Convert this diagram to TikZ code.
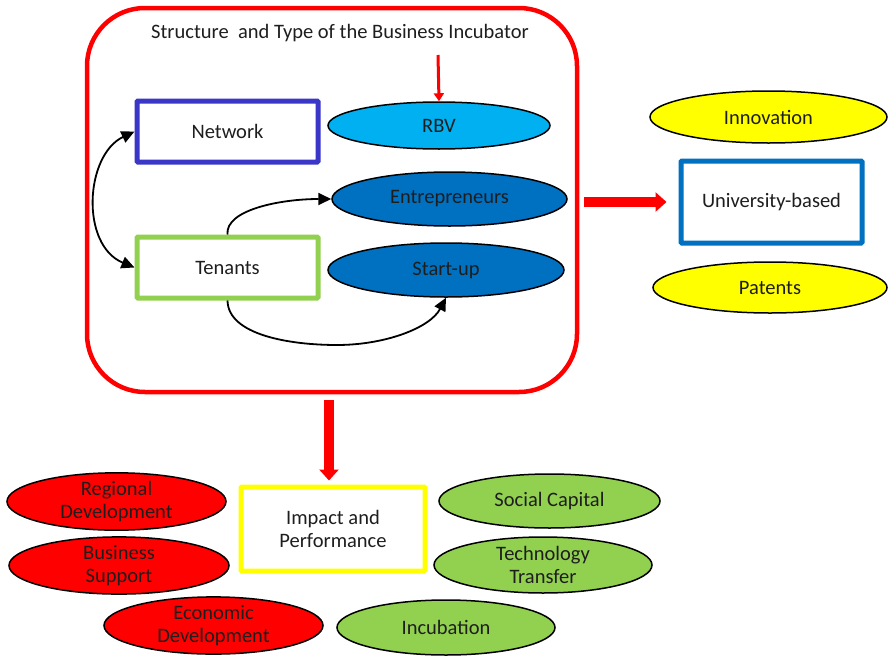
\documentclass[tikz,border=0pt]{standalone}
\usepackage{fontspec}
\setmainfont{Carlito}
\usetikzlibrary{arrows.meta,shapes.geometric,calc}
\definecolor{bred}{HTML}{FF0000}
\definecolor{netblue}{HTML}{3A36C8}
\definecolor{tgreen}{HTML}{92D050}
\definecolor{ublue}{HTML}{0070C0}
\definecolor{rbvblue}{HTML}{00B0F0}
\definecolor{yel}{HTML}{FFFF00}
\definecolor{txt}{HTML}{1E1E1E}
\begin{document}
\begin{tikzpicture}[x=1pt,y=-1pt,
  every node/.style={font=\fontsize{20.5}{23}\selectfont, text=txt, align=center},
  boxnode/.style={draw, line width=5pt, fill=white, inner sep=0pt, rounded corners=1pt},
  ell/.style={ellipse, draw=black, line width=1.5pt, inner sep=0pt},
  curvearrow/.style={draw=black, line width=1.8pt, -{Triangle[length=13pt,width=12pt]}},
  bigarrow/.style={draw=bred, line width=10pt, -{Triangle[length=11pt,width=19pt]}},
  smallarrow/.style={draw=bred, line width=3pt, -{Triangle[length=8pt,width=10pt]}}
]
\useasboundingbox (0,0) rectangle (889,656);
\fill[white] (0,0) rectangle (889,656);

% main container
\node[draw=bred, line width=4.5pt, rounded corners=58pt, minimum width=490pt, minimum height=384pt, inner sep=0pt] (bigbox) at (332,200) {};
\node (title) at (340,33) {Structure\ \ and Type of the Business Incubator};

\node[boxnode, draw=netblue, minimum width=181pt, minimum height=61pt] (network) at (227.5,131.5) {Network};
\node[boxnode, draw=tgreen, minimum width=181pt, minimum height=61pt] (tenants) at (227.5,267.5) {Tenants};

\node[ell, fill=rbvblue, minimum width=222pt, minimum height=47pt] (rbv) at (439,125.5) {RBV};
\node[ell, fill=ublue, minimum width=235pt, minimum height=54pt] (entre) at (449.5,199) {Entrepreneurs};
\node[ell, fill=ublue, minimum width=236pt, minimum height=54pt] (startup) at (446,270) {Start-up};

\coordinate (rbvin) at (438,55);
\draw[smallarrow] (rbvin) -- (rbv.north);

\draw[curvearrow, {Triangle[length=13pt,width=12pt]}-{Triangle[length=13pt,width=12pt]}]
  (network.west) .. controls (85,155) and (80,245) .. (tenants.west);
\draw[curvearrow] (tenants.north) .. controls (225,210) and (280,199) .. (entre.west);
\draw[curvearrow] (tenants.south) .. controls (228,335) and (290,345) .. (337,345)
  .. controls (385,345) and (430,328) .. (startup.south);

% right side
\node[boxnode, draw=ublue, minimum width=181pt, minimum height=82pt] (univ) at (771.5,202) {University-based};
\node[ell, fill=yel, minimum width=237pt, minimum height=52pt] (innov) at (768.5,117) {Innovation};
\node[ell, fill=yel, minimum width=234pt, minimum height=51pt] (patents) at (770,287.5) {Patents};
\draw[bigarrow, shorten <=5pt, shorten >=12pt] (bigbox.east |- univ) -- (univ.west);

% bottom
\node[boxnode, draw=yel, minimum width=184pt, minimum height=84pt] (impact) at (333,529) {Impact and\\Performance};
\draw[bigarrow, shorten <=6pt, shorten >=4pt] (bigbox.south -| 329,0) -- (impact.north -| 329,0);

\node[ell, fill=bred, minimum width=219pt, minimum height=57pt] (regional) at (116.5,501.5) {Regional\\Development};
\node[ell, fill=bred, minimum width=220pt, minimum height=57pt] (business) at (119,565.5) {Business\\Support};
\node[ell, fill=bred, minimum width=219pt, minimum height=57pt] (economic) at (213.5,625.5) {Economic\\Development};
\node[ell, fill=tgreen, minimum width=221pt, minimum height=54pt] (social) at (549.5,501) {Social Capital};
\node[ell, fill=tgreen, minimum width=218pt, minimum height=56pt] (tech) at (543,565) {Technology\\Transfer};
\node[ell, fill=tgreen, minimum width=218pt, minimum height=55pt] (incub) at (446,627.5) {Incubation};
\end{tikzpicture}
\end{document}
